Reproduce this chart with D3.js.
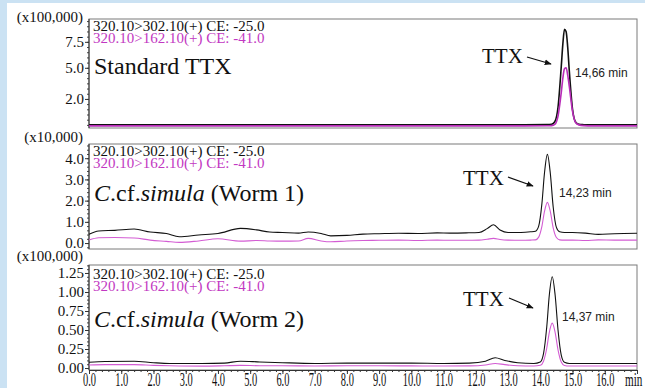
<!DOCTYPE html>
<html>
<head>
<meta charset="utf-8">
<script src="https://cdn.jsdelivr.net/npm/d3@7"></script>
<style>
html, body { margin: 0; padding: 0; background: #fff; overflow: hidden; }
svg { display: block; }
</style>
</head>
<body>
<div id="chart"></div>
<script>
const width = 645;
const height = 388;

// ---- data (retention time in min, intensity in panel units) ----
const times1 = [0, 2, 4, 6, 8, 10, 12, 13.5, 14.2, 14.35, 14.45, 14.55, 14.65, 14.7, 14.75, 14.8, 14.85, 14.9, 15.0, 15.1, 15.2, 15.35, 15.6, 16, 17];
const black1 = [-0.5, -0.5, -0.5, -0.5, -0.5, -0.5, -0.5, -0.48, -0.47, -0.45, -0.2, 1.2, 5.1, 7.3, 8.7, 8.5, 7.0, 4.7, 1.0, -0.25, -0.45, -0.48, -0.5, -0.5, -0.5];
const magenta1 = [-0.6, -0.6, -0.6, -0.6, -0.6, -0.6, -0.6, -0.6, -0.59, -0.57, -0.45, 0.35, 2.6, 4.0, 4.9, 5.0, 4.3, 3.2, 0.8, -0.3, -0.5, -0.57, -0.6, -0.6, -0.6];

const times2 = [0, 0.3, 0.8, 1.4, 1.9, 2.4, 2.8, 3.4, 4.0, 4.7, 5.2, 5.6, 6.0, 6.5, 6.8, 7.2, 7.5, 8.0, 8.5, 9.0, 9.6, 10.2, 10.8, 11.2, 11.7, 12.1, 12.35, 12.55, 12.75, 13.0, 13.4, 13.7, 13.85, 13.95, 14.05, 14.13, 14.22, 14.31, 14.4, 14.5, 14.6, 14.75, 15.0, 15.4, 15.8, 16.3, 17];
const black2 = [0.41, 0.57, 0.6, 0.66, 0.52, 0.45, 0.3, 0.38, 0.45, 0.69, 0.62, 0.52, 0.5, 0.47, 0.52, 0.45, 0.34, 0.36, 0.42, 0.44, 0.46, 0.45, 0.48, 0.47, 0.48, 0.5, 0.68, 0.86, 0.62, 0.5, 0.5, 0.53, 0.56, 0.8, 1.86, 3.3, 4.18, 3.3, 1.7, 0.74, 0.53, 0.5, 0.5, 0.47, 0.41, 0.44, 0.46];
const magenta2 = [0.14, 0.25, 0.26, 0.24, 0.14, 0.08, 0.03, 0.1, 0.2, 0.09, 0.12, 0.1, 0.09, 0.1, 0.22, 0.1, 0.06, 0.1, 0.12, 0.13, 0.14, 0.12, 0.14, 0.13, 0.13, 0.14, 0.18, 0.22, 0.17, 0.14, 0.13, 0.14, 0.15, 0.28, 0.79, 1.49, 1.92, 1.49, 0.72, 0.26, 0.15, 0.14, 0.14, 0.12, 0.15, 0.14, 0.14];

const times3 = [0, 0.5, 1.4, 2.0, 2.5, 3.5, 4.2, 4.7, 5.3, 6, 7, 8, 9, 10, 11, 11.8, 12.3, 12.6, 12.9, 13.3, 13.8, 14.0, 14.1, 14.2, 14.28, 14.37, 14.46, 14.55, 14.65, 14.75, 14.9, 15.2, 16, 17];
const black3 = [0.075, 0.085, 0.09, 0.07, 0.06, 0.06, 0.065, 0.09, 0.08, 0.07, 0.06, 0.065, 0.065, 0.065, 0.06, 0.065, 0.09, 0.135, 0.1, 0.07, 0.06, 0.08, 0.19, 0.54, 0.96, 1.2, 0.96, 0.5, 0.17, 0.075, 0.06, 0.06, 0.06, 0.06];
const magenta3 = [0.04, 0.045, 0.045, 0.035, 0.03, 0.025, 0.03, 0.035, 0.03, 0.03, 0.026, 0.03, 0.03, 0.028, 0.026, 0.028, 0.04, 0.06, 0.045, 0.03, 0.026, 0.036, 0.09, 0.26, 0.47, 0.59, 0.47, 0.24, 0.08, 0.034, 0.026, 0.026, 0.026, 0.026];

const xTicks = [0, 1, 2, 3, 4, 5, 6, 7, 8, 9, 10, 11, 12, 13, 14, 15, 16];
const yTicks1 = [2.0, 5.0, 7.5];
const yTicks2 = [0, 1, 2, 3, 4];
const yTicks3 = [0, 0.25, 0.5, 0.75, 1.0, 1.25];
const unitLabels = ["(x100,000)", "(x10,000)", "(x100,000)"];
const channelLabels = ["320.10>302.10(+) CE: -25.0", "320.10>162.10(+) CE: -41.0"];
const sampleTitles = [
  [{t: "Standard TTX", i: false}],
  [{t: "C", i: true}, {t: ".cf.", i: false}, {t: "simula", i: true}, {t: " (Worm 1)", i: false}],
  [{t: "C", i: true}, {t: ".cf.", i: false}, {t: "simula", i: true}, {t: " (Worm 2)", i: false}]
];
const rtLabels = ["14,66 min", "14,23 min", "14,37 min"];

// ---- layout ----
const serif = "'Liberation Serif', 'Times New Roman', serif";
const sans = "'Liberation Sans', Arial, sans-serif";
const black = "#111";
const magenta = "#c238c2";

const panels = [
  {t: times1, b: black1, m: magenta1, top: 19, bottom: 128, dom: [-0.8, 9.7], ticks: yTicks1, minor: 20, fmt: d3.format(".1f"),
   unitY: 22, hdrY: 31, titleY: 74, ttx: [482, 63], arrow: [527, 57, 551, 64], rt: [575, 77], lw: 1.6, mc: "#b82cb8"},
  {t: times2, b: black2, m: magenta2, top: 144, bottom: 249, dom: [-0.28, 4.67], ticks: yTicks2, minor: 25, fmt: d3.format(".1f"),
   unitY: 142, hdrY: 156, titleY: 201, ttx: [463, 185], arrow: [508, 177, 533, 186], rt: [559, 197], lw: 1.1, mc: "#d35cd3"},
  {t: times3, b: black3, m: magenta3, top: 265, bottom: 370, dom: [-0.026, 1.355], ticks: yTicks3, minor: 28, fmt: d3.format(".2f"),
   unitY: 261, hdrY: 279, titleY: 327, ttx: [463, 306], arrow: [509, 298, 533, 308], rt: [562, 321], lw: 1.1, mc: "#d35cd3"}
];

const svg = d3.select("#chart").append("svg")
    .attr("width", width)
    .attr("height", height);

svg.append("rect").attr("width", width).attr("height", height).attr("fill", "#cbe2f3");
svg.append("rect").attr("x", 7).attr("y", 3).attr("width", width - 7).attr("height", height - 3).attr("fill", "#fff");

svg.append("defs").append("marker")
    .attr("id", "arrowhead")
    .attr("viewBox", "0 0 10 10")
    .attr("refX", 9).attr("refY", 5)
    .attr("markerWidth", 7).attr("markerHeight", 7)
    .attr("markerUnits", "userSpaceOnUse")
    .attr("orient", "auto")
  .append("path")
    .attr("d", "M0,1 L10,5 L0,9 z")
    .attr("fill", black);

const x = d3.scaleLinear().domain([0, 17]).range([89, 637]);

panels.forEach(function (p, i) {
    const y = d3.scaleLinear().domain(p.dom).range([p.bottom, p.top]);
    const g = svg.append("g");

    // frame
    g.append("rect")
        .attr("x", x(0)).attr("y", p.top)
        .attr("width", x(17) - x(0)).attr("height", p.bottom - p.top)
        .attr("fill", "none").attr("stroke", "#7a7a7a").attr("stroke-width", 1);

    // y axis, minor ticks first
    g.append("g")
        .attr("transform", "translate(" + x(0) + ",0)")
        .call(d3.axisLeft(y).tickValues(y.ticks(p.minor)).tickSize(2).tickSizeOuter(0).tickFormat(""))
        .call(a => a.select(".domain").remove())
        .call(a => a.selectAll("line").attr("stroke", "#444"));

    const ya = g.append("g")
        .attr("transform", "translate(" + x(0) + ",0)")
        .call(d3.axisLeft(y).tickValues(p.ticks).tickSize(4).tickSizeOuter(0).tickPadding(1).tickFormat(p.fmt));
    ya.select(".domain").attr("d", "M0," + p.top + "V" + p.bottom).attr("stroke", "#333");
    ya.selectAll("line").attr("stroke", "#333");
    ya.selectAll("text")
        .attr("font-family", serif).attr("font-size", 15).attr("fill", "#111");

    g.append("text")
        .attr("x", 83).attr("y", p.unitY)
        .attr("text-anchor", "end")
        .attr("font-family", serif).attr("font-size", 15).attr("fill", "#111")
        .text(unitLabels[i]);

    // traces
    const line = d3.line()
        .x((d, k) => x(p.t[k]))
        .y(d => y(d))
        .curve(d3.curveMonotoneX);

    g.append("path").datum(p.b)
        .attr("d", line).attr("fill", "none")
        .attr("stroke", black).attr("stroke-width", p.lw);
    g.append("path").datum(p.m)
        .attr("d", line).attr("fill", "none")
        .attr("stroke", p.mc).attr("stroke-width", p.lw);

    // channel labels
    g.append("text")
        .attr("x", 93).attr("y", p.hdrY)
        .attr("font-family", serif).attr("font-size", 15).attr("fill", "#111")
        .text(channelLabels[0]);
    g.append("text")
        .attr("x", 93).attr("y", p.hdrY + 12)
        .attr("font-family", serif).attr("font-size", 15).attr("fill", magenta)
        .text(channelLabels[1]);

    // sample title
    const title = g.append("text")
        .attr("x", 94).attr("y", p.titleY)
        .attr("font-family", serif).attr("font-size", 24).attr("fill", "#111");
    sampleTitles[i].forEach(function (s) {
        title.append("tspan")
            .attr("font-style", s.i ? "italic" : "normal")
            .text(s.t);
    });

    // TTX annotation
    g.append("text")
        .attr("x", p.ttx[0]).attr("y", p.ttx[1])
        .attr("font-family", serif).attr("font-size", 21).attr("fill", "#111")
        .text("TTX");
    g.append("line")
        .attr("x1", p.arrow[0]).attr("y1", p.arrow[1])
        .attr("x2", p.arrow[2]).attr("y2", p.arrow[3])
        .attr("stroke", black).attr("stroke-width", 1.3)
        .attr("marker-end", "url(#arrowhead)");
    g.append("text")
        .attr("x", p.rt[0]).attr("y", p.rt[1])
        .attr("font-family", sans).attr("font-size", 12).attr("fill", "#222")
        .text(rtLabels[i]);

    // x axis on the bottom panel only
    if (i === panels.length - 1) {
        g.append("g")
            .attr("transform", "translate(0," + p.bottom + ")")
            .call(d3.axisBottom(x).tickValues(x.ticks(85)).tickSize(2).tickSizeOuter(0).tickFormat(""))
            .call(a => a.select(".domain").remove())
            .call(a => a.selectAll("line").attr("stroke", "#333"));
        const xa = g.append("g")
            .attr("transform", "translate(0," + p.bottom + ")")
            .call(d3.axisBottom(x).tickValues(xTicks.concat([17])).tickSize(4).tickSizeOuter(0).tickFormat(d => d === 17 ? "" : d3.format(".1f")(d)));
        xa.select(".domain").attr("stroke", "#333");
        xa.selectAll("line").attr("stroke", "#333");
        xa.selectAll("text")
            .attr("font-family", serif).attr("font-size", 18).attr("fill", "#111")
            .attr("y", 16).attr("dy", 0)
            .attr("transform", "scale(0.58,1)");
        g.append("text")
            .attr("transform", "translate(625," + (p.bottom + 16) + ") scale(0.62,1)")
            .attr("font-family", serif).attr("font-size", 18).attr("fill", "#111")
            .text("min");
    }
});
</script>
</body>
</html>
